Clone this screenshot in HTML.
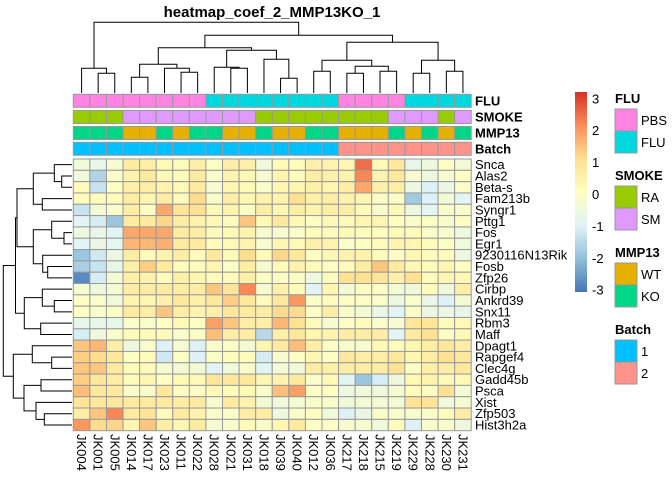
<!DOCTYPE html>
<html><head><meta charset="utf-8"><style>
body{margin:0;background:#fff;}
svg text{font-family:"Liberation Sans",sans-serif;}
</style></head><body>
<svg id="chart" width="672" height="480" xmlns="http://www.w3.org/2000/svg">
<text x="272" y="17" font-size="15" font-weight="bold" text-anchor="middle">heatmap_coef_2_MMP13KO_1</text>
<g id="coldend" stroke="#000" stroke-width="1" fill="none"></g>
<g id="rowdend" stroke="#000" stroke-width="1" fill="none"></g>
<g id="annot"></g>
<g id="cells"></g>
<g id="rowlabels"></g>
<g id="collabels"></g>
<g id="legend">
<defs><linearGradient id="grad" x1="0" y1="1" x2="0" y2="0">
<stop offset="0" stop-color="#4575B4"/><stop offset="0.167" stop-color="#91BFDB"/><stop offset="0.333" stop-color="#E0F3F8"/><stop offset="0.5" stop-color="#FFFFBF"/><stop offset="0.667" stop-color="#FEE090"/><stop offset="0.833" stop-color="#FC8D59"/><stop offset="1" stop-color="#D73027"/></linearGradient></defs>
<rect x="575" y="92" width="12" height="200" fill="url(#grad)"/>
</g>
</svg>
<script>
const colNames=["JK004","JK001","JK005","JK014","JK017","JK023","JK011","JK022","JK028","JK021","JK031","JK018","JK039","JK040","JK012","JK036","JK217","JK218","JK215","JK219","JK229","JK228","JK230","JK231"];
const rowNames=["Snca","Alas2","Beta-s","Fam213b","Syngr1","Pttg1","Fos","Egr1","9230116N13Rik","Fosb","Zfp26","Cirbp","Ankrd39","Snx11","Rbm3","Maff","Dpagt1","Rapgef4","Clec4g","Gadd45b","Psca","Xist","Zfp503","Hist3h2a"];
const fluGroup=["PBS","PBS","PBS","PBS","PBS","PBS","PBS","PBS","FLU","FLU","FLU","FLU","FLU","FLU","FLU","FLU","PBS","PBS","PBS","PBS","FLU","FLU","FLU","FLU"];
const smokeGroup=["RA","RA","RA","SM","SM","SM","SM","SM","SM","SM","SM","RA","RA","RA","RA","RA","RA","RA","RA","SM","SM","SM","RA","SM"];
const mmpGroup=["KO","KO","KO","WT","WT","KO","WT","KO","KO","WT","WT","KO","WT","WT","KO","KO","WT","WT","WT","KO","WT","KO","WT","KO"];
const batchGroup=["1","1","1","1","1","1","1","1","1","1","1","1","1","1","1","1","2","2","2","2","2","2","2","2"];
const vals=[
[-0.5,-0.8,-0.3,0.7,0.6,0.2,0.1,0.6,-0.1,0.6,0.5,-0.5,0.2,0.1,0.5,0.4,0.3,2.5,0.2,0.8,-0.8,-0.6,-0.1,-0.4],
[-0.5,-1.7,-0.2,0.4,0.7,0.2,0.1,0.7,-0.2,0.4,0.2,-0.3,0.4,0.1,0.6,0.5,0.4,2.2,0.4,0.8,-0.3,-0.6,-0.3,-0.1],
[0.1,-1.4,-0.1,0.5,0.6,0.4,0.2,0.7,-0.3,0.3,0.2,-0.2,0.3,0.3,0.5,0.3,0.6,1.8,0.5,0.6,-0.6,-1.1,-0.7,-0.2],
[0.1,0.1,0.1,0.6,0.3,0.6,0.1,1.1,-0.2,0.6,0.3,0.4,0.4,1.0,0.5,0.6,0.4,0.3,-0.1,-0.1,-1.9,-1.1,-0.4,-1.0],
[-1.4,-0.4,-0.2,0.6,-0.1,1.8,0.9,1.0,0.2,0.4,-0.1,0.6,0.3,0.6,0.4,0.6,0.6,0.1,-0.2,0.2,-0.6,-0.9,-0.2,-0.2],
[-1.0,-1.2,-2.0,0.7,0.7,1.2,0.6,0.4,0.2,0.1,1.4,0.2,0.8,0.2,-0.1,0.2,0.1,0.3,0.3,0.0,-0.2,-0.1,-0.2,-0.1],
[-0.6,-0.8,-1.0,1.8,1.8,1.8,0.7,0.6,0.1,0.2,0.4,-0.3,-0.3,-0.2,0.1,0.1,0.2,0.1,0.0,0.2,0.1,-0.2,-0.2,-0.6],
[-1.0,-0.7,-0.9,1.6,1.6,1.7,0.7,0.7,0.1,0.2,0.4,-0.3,0.3,0.2,0.5,0.4,-0.2,-0.1,0.1,0.4,0.3,0.1,-0.1,-0.5],
[-2.0,-1.3,-0.7,0.6,0.1,0.4,0.6,0.1,0.8,0.2,1.1,0.1,1.2,0.8,-0.1,0.3,0.4,0.4,0.1,-0.1,0.3,0.1,0.1,-0.6],
[-1.8,-1.4,-0.8,0.5,1.3,0.7,0.1,0.1,0.3,-0.1,0.6,-0.3,0.1,0.4,0.1,-0.1,0.1,0.6,1.4,0.7,0.2,0.1,0.3,-0.1],
[-2.9,-1.2,-0.4,0.5,0.4,0.1,0.5,0.3,0.1,0.1,0.5,-0.1,-0.1,-0.1,-0.6,0.1,1.0,1.0,0.9,0.5,1.0,0.1,0.3,0.2],
[-0.3,-0.6,-0.4,0.6,0.6,0.7,0.6,0.6,1.4,0.9,2.2,-0.3,0.5,0.1,-1.0,0.3,-0.4,-0.1,-0.1,-0.4,-0.5,0.1,-0.5,0.5],
[-0.1,-0.2,-0.5,0.4,0.3,0.5,0.8,0.5,0.8,1.3,0.8,0.1,0.8,2.0,-0.1,0.1,-0.1,-0.1,-0.2,-0.6,-0.2,-0.7,-1.1,-0.4],
[-0.1,-0.2,-0.1,0.7,0.6,1.4,0.6,0.4,0.5,0.8,0.7,0.6,1.1,1.1,-0.1,0.6,-0.2,-0.4,-0.7,-1.0,-0.2,-0.7,-0.7,-0.8],
[-0.8,-0.8,-0.8,-0.2,-0.2,-0.1,0.2,-0.1,1.9,1.4,0.6,0.5,1.6,1.0,0.1,-0.3,-0.1,0.1,-0.2,-0.3,0.9,0.9,0.1,0.2],
[-1.2,-0.5,-0.2,0.1,0.1,0.1,-0.2,-0.1,1.5,0.6,0.6,-1.6,0.5,0.8,0.3,0.4,0.6,0.6,0.6,-1.0,0.7,1.0,-0.1,0.2],
[1.4,1.6,0.6,-0.6,-0.2,-1.1,-0.3,-1.1,-0.2,-0.1,-0.4,0.3,0.7,1.5,0.6,-0.1,-0.2,-0.3,0.2,0.1,0.3,0.6,0.8,0.6],
[1.3,1.1,0.8,-0.1,0.1,-1.3,-0.1,-1.1,-0.1,0.1,0.1,-1.2,-0.3,-0.1,0.3,-0.1,0.8,0.6,0.6,0.8,0.3,0.6,1.0,0.8],
[1.4,1.4,0.7,0.1,0.1,-0.3,-0.4,-0.4,-1.0,-0.5,-0.2,-1.0,-0.4,-0.5,0.6,0.5,0.6,0.6,0.6,1.0,-0.1,0.5,0.6,0.8],
[1.3,0.8,0.6,0.1,0.3,-0.1,0.2,0.2,0.9,0.8,0.8,0.3,0.4,0.7,-0.2,0.2,-1.0,-2.0,-1.2,-0.6,0.2,0.4,0.2,0.2],
[1.5,0.8,0.7,-0.2,-0.2,0.8,-0.1,-0.1,0.2,0.1,0.2,-0.2,1.5,1.9,-0.1,0.0,-0.6,-0.5,-0.5,-0.3,0.1,-0.1,1.0,-0.4],
[0.9,0.8,0.8,0.7,0.7,0.7,0.6,0.7,-0.3,0.7,0.4,-0.4,-0.5,-0.4,-0.2,-0.2,-0.5,-0.4,-0.4,-0.4,0.9,0.9,-0.5,-0.3],
[0.6,1.4,2.2,0.7,0.9,0.1,0.7,0.4,-0.2,-0.2,0.6,0.6,-0.6,-0.2,0.0,-0.5,-1.1,-0.7,-0.2,-0.2,-0.3,-0.2,0.1,0.6],
[2.0,1.1,1.2,0.3,1.4,0.6,0.3,0.7,-0.3,-0.2,0.1,-0.2,0.3,0.7,-0.1,-0.1,-0.3,-0.3,-0.5,0.1,-1.1,-0.2,-0.2,-0.6]];
const scaleTicks=[3,2,1,0,-1,-2,-3];

const NS="http://www.w3.org/2000/svg";
const X0=73.3,CW=16.58,Y0=159,RH=11.32;
const xc=i=>X0+CW*(i+0.5), yr=i=>Y0+RH*(i+0.5);
const palette=["#4575B4","#91BFDB","#E0F3F8","#FFFFBF","#FEE090","#FC8D59","#D73027"];
function hex(h){return [1,3,5].map(k=>parseInt(h.substr(k,2),16));}
function colorOf(v){let t=(v+3.2)/6.4;t=Math.max(0,Math.min(1,t))*6;let i=Math.min(5,Math.floor(t)),f=t-i;
 const a=hex(palette[i]),b=hex(palette[i+1]);return "rgb("+a.map((c,k)=>Math.round(c+(b[k]-c)*f)).join(",")+")";}
function mk(tag,attrs,parent){const e=document.createElementNS(NS,tag);for(const k in attrs)e.setAttribute(k,attrs[k]);parent.appendChild(e);return e;}

const cells=document.getElementById('cells');
vals.forEach((row,r)=>row.forEach((v,c)=>{
 const e=mk('rect',{x:X0+CW*c,y:Y0+RH*r,width:CW,height:RH,fill:colorOf(v),stroke:"#999",'stroke-width':1},cells);
 
 
}));
const rl=document.getElementById('rowlabels');
rowNames.forEach((n,r)=>{const t=mk('text',{x:475,y:yr(r)+4.5,'font-size':13},rl);t.textContent=n;
 
 });
const cl=document.getElementById('collabels');
colNames.forEach((n,c)=>{const t=mk('text',{transform:`translate(${xc(c)-4.5},434) rotate(90)`,'font-size':13},cl);t.textContent=n;
 
 });

const annColors={PBS:"#FF83E3",FLU:"#00D8E0",RA:"#99CC00",SM:"#DF99FF",WT:"#E5B000",KO:"#00D687","1":"#00C0FF","2":"#FF938A"};
const annTracks=[["FLU",fluGroup,94.3],["SMOKE",smokeGroup,110.5],["MMP13",mmpGroup,126.5],["Batch",batchGroup,142.3]];
const an=document.getElementById('annot');
annTracks.forEach(([name,grp,y])=>{
 grp.forEach((g,c)=>{const e=mk('rect',{x:X0+CW*c,y:y,width:CW,height:13,fill:annColors[g],stroke:"#999",'stroke-width':1},an);
  
  });
 const t=mk('text',{x:475,y:y+11,'font-size':13,'font-weight':'bold'},an);t.textContent=name;
 
 
});

// column dendrogram: [left, right, heightY]
const colMerges=[[1,2,73.3],[0,"a",68.3],[3,4,77.3],[6,7,72.3],[5,"d",68.3],["c","e",64.3],[9,10,68.3],[8,"g",67.3],[12,13,78.3],[11,"i",59.3],["h","j",50.3],["f","k",47.7],[14,15,71.3],[16,17,73.3],[18,19,71.3],["n","o",66.3],["m","p",60.3],[20,21,73.3],[22,23,71.3],["r","s",60.3],["q","t",42.3],["l","u",35.3],["b","v",22.3]];
const rowMerges=[[1,2,61.7],[0,"a",54.3],[3,4,42.3],["b","c",33.3],[6,7,64],[5,"e",51.7],[9,10,47.7],[8,"g",42.7],["f","h",33.3],["d","i",17],[12,13,54.3],[11,"k",42.3],[14,15,40.7],["l","m",24.3],["j","n",15.5],[17,18,51.7],[16,"p",32.3],[19,20,41],[22,23,44.3],[21,"s",36],["r","t",24],["q","u",13.3],["o","v",3.3]];
function drawDend(merges,g,pos,leafH,vertical){
 const ids="abcdefghijklmnopqrstuvw";const nodes={};
 const get=k=>typeof k==="number"?{p:pos(k),h:leafH}:nodes[k];
 merges.forEach((m,i)=>{const A=get(m[0]),B=get(m[1]),h=m[2];
  const d=vertical?`M${A.p},${A.h}V${h}H${B.p}V${B.h}`:`M${A.h},${A.p}H${h}V${B.p}H${B.h}`;
  const e=mk('path',{d:d},g);
  
  
  nodes[ids[i]]={p:(A.p+B.p)/2,h:h};});
}
drawDend(colMerges,document.getElementById('coldend'),xc,93,true);
drawDend(rowMerges,document.getElementById('rowdend'),yr,72,false);

const lg=document.getElementById('legend');
scaleTicks.forEach(v=>{const t=mk('text',{x:592,y:194-31.9*v+5,'font-size':13},lg);t.textContent=String(v);
 
 });
const legs=[["FLU",["PBS","FLU"],99],["SMOKE",["RA","SM"],176],["MMP13",["WT","KO"],253],["Batch",["1","2"],330]];
legs.forEach(([title,items,y])=>{
 const t=mk('text',{x:615,y:y+4,'font-size':13,'font-weight':'bold'},lg);t.textContent=title;
 
 
 items.forEach((it,k)=>{const by=y+10+22*k;
  const r=mk('rect',{x:615,y:by,width:22,height:22,fill:annColors[it],stroke:"#999",'stroke-width':1},lg);
  
  
  const s=mk('text',{x:641,y:by+16,'font-size':13},lg);s.textContent=it;
  
  });
});
</script>
</body></html>
